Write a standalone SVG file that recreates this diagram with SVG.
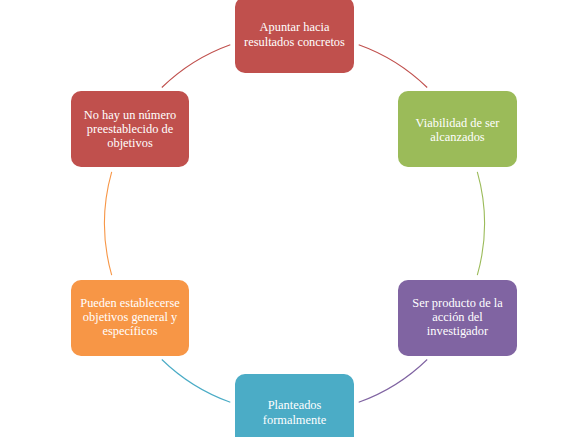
<svg xmlns="http://www.w3.org/2000/svg" width="576" height="437" viewBox="0 0 576 437">
<style>
.box{stroke:none}
.t{font-family:"Liberation Serif","Times New Roman",serif;font-size:12.4px;fill:#ffffff;text-anchor:middle}
.arc{fill:none;stroke-width:1.1}
</style>
<rect width="576" height="437" fill="#ffffff"/>
<g id="connectors">
<path class="arc" stroke="#C0504D" d="M358.7,44.7 A190,190 0 0 1 427.2,87.5"/>
<path class="arc" stroke="#9BBB59" d="M477.3,171.8 A190,190 0 0 1 477.3,275.2"/>
<path class="arc" stroke="#8064A2" d="M427.2,359.5 A190,190 0 0 1 358.7,402.3"/>
<path class="arc" stroke="#4BACC6" d="M230.3,402.3 A190,190 0 0 1 161.8,359.5"/>
<path class="arc" stroke="#F79646" d="M111.7,275.2 A190,190 0 0 1 111.7,171.8"/>
<path class="arc" stroke="#C0504D" d="M161.8,87.5 A190,190 0 0 1 230.3,44.7"/>
</g>
<g id="n1">
<rect class="box" x="235" y="-3" width="119" height="76" rx="10" fill="#C0504D"/>
<text class="t" x="294.5" y="31">Apuntar hacia</text>
<text class="t" x="294.5" y="46">resultados concretos</text>
</g>
<g id="n2">
<rect class="box" x="398" y="91" width="119" height="76" rx="10" fill="#9BBB59"/>
<text class="t" x="457.5" y="126.5">Viabilidad de ser</text>
<text class="t" x="457.5" y="140.5">alcanzados</text>
</g>
<g id="n3">
<rect class="box" x="398" y="280" width="119" height="76" rx="10" fill="#8064A2"/>
<text class="t" x="457.5" y="307">Ser producto de la</text>
<text class="t" x="457.5" y="321">acción del</text>
<text class="t" x="457.5" y="335">investigador</text>
</g>
<g id="n4">
<rect class="box" x="235" y="374" width="119" height="76" rx="10" fill="#4BACC6"/>
<text class="t" x="294.5" y="409">Planteados</text>
<text class="t" x="294.5" y="424">formalmente</text>
</g>
<g id="n5">
<rect class="box" x="71" y="280" width="118" height="76" rx="10" fill="#F79646"/>
<text class="t" x="130" y="307">Pueden establecerse</text>
<text class="t" x="130" y="321">objetivos general y</text>
<text class="t" x="130" y="335">específicos</text>
</g>
<g id="n6">
<rect class="box" x="71" y="91" width="118" height="76" rx="10" fill="#C0504D"/>
<text class="t" x="130" y="119">No hay un número</text>
<text class="t" x="130" y="133">preestablecido de</text>
<text class="t" x="130" y="147">objetivos</text>
</g>
</svg>
